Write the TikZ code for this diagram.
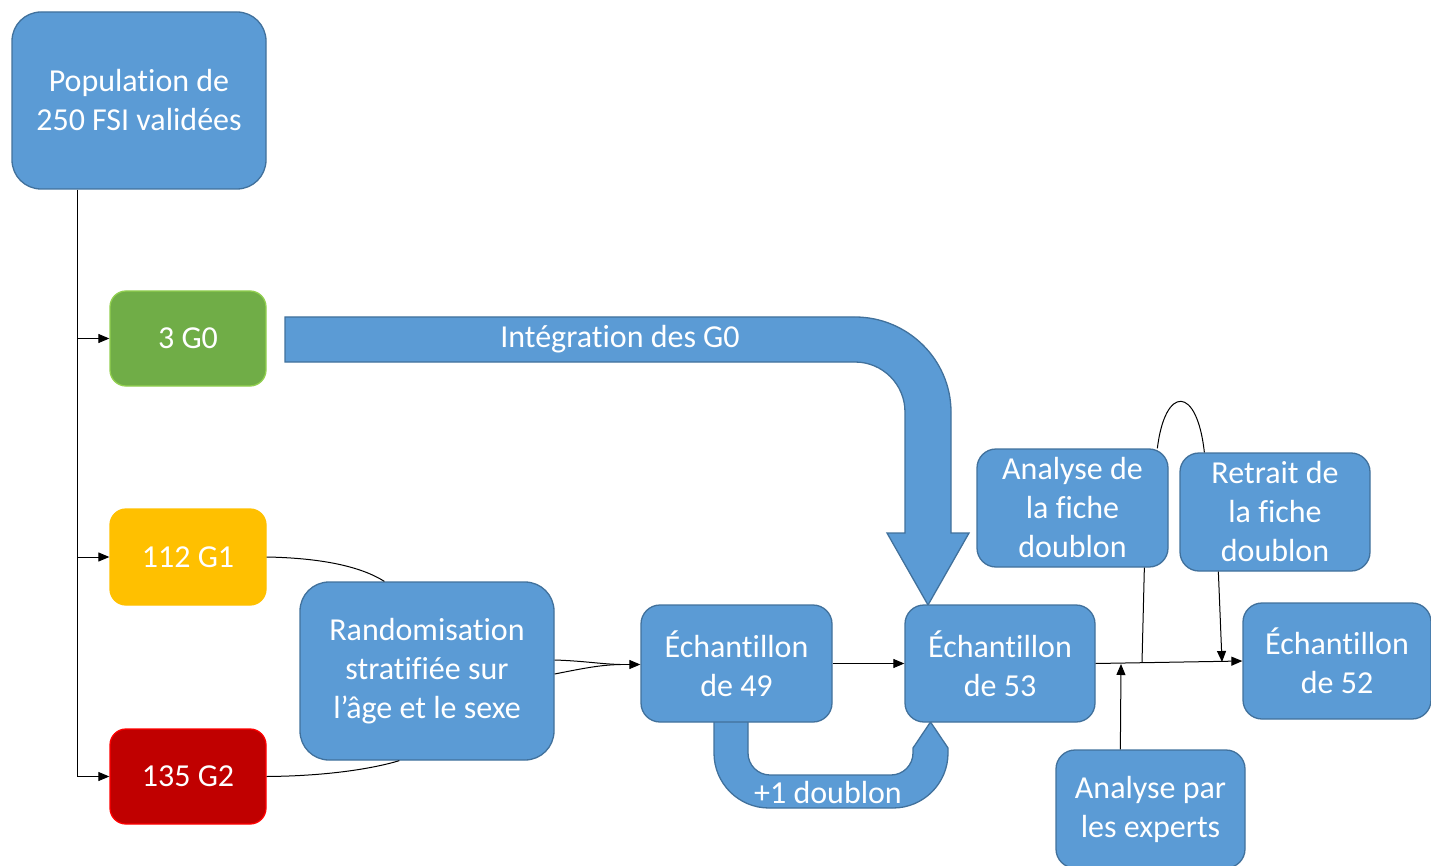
\documentclass[tikz,border=0pt]{standalone}
\usepackage{fontspec}
\setmainfont{Carlito}[Ligatures={NoCommon,NoRequired,NoContextual},RawFeature={-liga;-clig;-dlig}]
\usetikzlibrary{arrows.meta,calc}
\newcommand{\nl}{\kern0pt}
\definecolor{bfill}{HTML}{5B9BD5}
\definecolor{bline}{HTML}{41719C}
\definecolor{gfill}{HTML}{70AD47}
\definecolor{gline}{HTML}{92D050}
\definecolor{yfill}{HTML}{FFC000}
\definecolor{rfill}{HTML}{C00000}
\definecolor{rline}{HTML}{FF0000}
\tikzset{
  box/.style={draw=bline, fill=bfill, line width=1.3pt, text=white, align=center,
    inner sep=0pt, font=\fontsize{32}{39}\selectfont},
  conn/.style={draw=black, line width=1pt},
  arr/.style={conn, -{Triangle[length=11pt,width=9pt]}},
  bigarrow/.style={fill=bfill, draw=bline, line width=1.3pt},
  lbl/.style={text=white, font=\fontsize{32}{39}\selectfont, inner sep=0pt}
}
\begin{document}
\begin{tikzpicture}[x=1pt,y=-1pt]
\useasboundingbox (0,0) rectangle (1431,866);

% big arrow: Integration des G0
\path[bigarrow] (285,317) -- (855,317)
  .. controls (907.5,317) and (951,359.5) .. (951,412)
  -- (951,533) -- (969,533) -- (928,605) -- (887,533) -- (905,533)
  -- (905,412) .. controls (905,384.4) and (882.6,362) .. (855,362)
  -- (285,362) -- cycle;
\node[lbl] (intlbl) at (620,339) {Intégrat\nl ion des G0};

% U arrow: +1 doublon
\path[bigarrow] (714,715) -- (714,753)
  .. controls (714,783.4) and (738.6,808) .. (769,808)
  -- (893,808) .. controls (923.4,808) and (948,783.4) .. (948,753)
  -- (948,748) -- (930.5,722) -- (913,748) -- (913,753)
  .. controls (913,765.1) and (903.1,775) .. (891,775)
  -- (770,775) .. controls (757.9,775) and (748,765.1) .. (748,753)
  -- (748,715) -- cycle;
\node[lbl] (dbllbl) at (828,793) {+1 doublon};

% boxes
\node[box, minimum width=254pt, minimum height=177pt, rounded corners=29pt] (pop) at (139,100.5) {Populat\nl ion de\\250 FSI validées};
\node[box, fill=gfill, draw=gline, minimum width=156pt, minimum height=95pt, rounded corners=16pt] (g0) at (188,338.5) {3 G0};
\node[box, fill=yfill, draw=yfill, minimum width=156pt, minimum height=96pt, rounded corners=16pt] (g1) at (188,557) {112 G1};
\node[box, fill=rfill, draw=rline, minimum width=156pt, minimum height=95pt, rounded corners=16pt] (g2) at (188,776.5) {135 G2};
\node[box, minimum width=254pt, minimum height=178pt, rounded corners=29pt] (rand) at (427,671) {Randomisat\nl ion\\strat\nl if\nl iée sur\\l’âge et le sexe};
\node[box, minimum width=191pt, minimum height=117pt, rounded corners=19pt] (e49) at (736.5,663.5) {Échant\nl illon\\de 49};
\node[box, minimum width=190pt, minimum height=117pt, rounded corners=19pt] (e53) at (1000,663.5) {Échant\nl illon\\de 53};
\node[box, minimum width=191pt, minimum height=118pt, rounded corners=19pt] (afiche) at (1072.5,508) {Analyse de\\la f\nl iche\\doublon};
\node[box, minimum width=190pt, minimum height=118pt, rounded corners=19pt] (retrait) at (1275,512) {Retrait de\\la f\nl iche\\doublon};
\node[box, minimum width=188pt, minimum height=116pt, rounded corners=19pt] (e52) at (1337,661) {Échant\nl illon\\de 52};
\node[box, minimum width=189pt, minimum height=118pt, rounded corners=19pt] (experts) at (1150.5,809) {Analyse par\\les experts};

% left tree
\coordinate (ttop) at ($(pop.south west)+(66,0)$);
\coordinate (tbot) at (ttop |- g2.west);
\draw[conn] (ttop) -- (tbot);
\draw[arr] (ttop |- g0.west) -- (g0.west);
\draw[arr] (ttop |- g1.west) -- (g1.west);
\draw[arr] (tbot) -- (g2.west);

% to randomisation
\draw[conn] (g1.east) .. controls (320,558) and (360,566) .. ($(rand.north west)+(85,0)$);
\draw[conn] (g2.east) .. controls (330,776) and (375,768) .. ($(rand.south west)+(100,0)$);
\coordinate (rmerge) at ($(e49.west)+(-20,1)$);
\draw[conn] ($(rand.east)+(0,-11)$) .. controls (585,661) and (600,664) .. (rmerge);
\draw[conn] ($(rand.east)+(0,3)$) .. controls (585,668) and (600,665) .. (rmerge);
\draw[arr] (rmerge) -- ($(e49.west)+(0,1)$);

% 49 -> 53
\draw[arr] (e49.east) -- (e53.west);

% right cluster
\draw[arr] (e53.east) -- (e52.west);
\coordinate (jexp) at (1121,664);
\draw[arr] ($(experts.north west)+(65,0)$) -- (jexp);
\coordinate (jfiche) at (1142,662.5);
\draw[conn] ($(afiche.south west)+(168,0)$) -- (jfiche);
\draw[conn] ($(afiche.north west)+(181,0)$) .. controls (1165,385) and (1197,385) .. ($(retrait.north west)+(25,0)$);
\coordinate (jret) at (1222,662);
\draw[arr] ($(retrait.south west)+(39,0)$) -- (jret);
\end{tikzpicture}
\end{document}
